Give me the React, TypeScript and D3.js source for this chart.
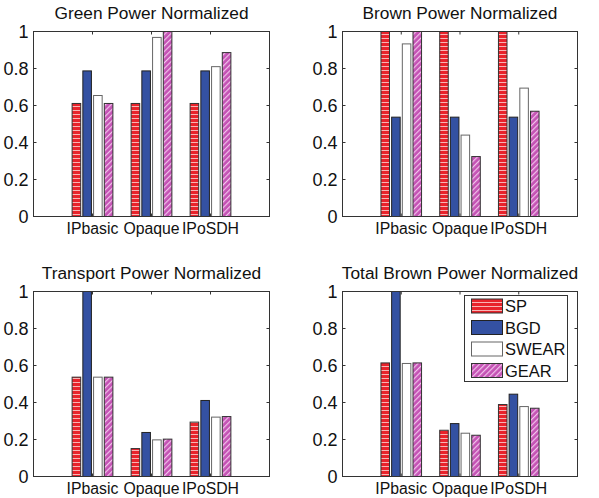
import React from "react";
import * as d3 from "d3";

const categories = ["IPbasic", "Opaque", "IPoSDH"];
const seriesNames = ["SP", "BGD", "SWEAR", "GEAR"];
const yTicks = [0, 0.2, 0.4, 0.6, 0.8, 1];
const yTickLabels = ["0", "0.2", "0.4", "0.6", "0.8", "1"];

// values per category: [SP, BGD, SWEAR, GEAR]
const greenPower = [
  [0.611, 0.787, 0.654, 0.611],
  [0.611, 0.787, 0.968, 1.0],
  [0.611, 0.787, 0.81, 0.886],
];
const brownPower = [
  [1.0, 0.537, 0.933, 1.0],
  [1.0, 0.537, 0.44, 0.324],
  [1.0, 0.537, 0.694, 0.569],
];
const transportPower = [
  [0.537, 1.0, 0.537, 0.537],
  [0.151, 0.238, 0.198, 0.202],
  [0.294, 0.411, 0.321, 0.324],
];
const totalBrownPower = [
  [0.614, 1.0, 0.611, 0.614],
  [0.25, 0.286, 0.234, 0.223],
  [0.389, 0.445, 0.378, 0.369],
];

const titles = [
  "Green Power Normalized",
  "Brown Power Normalized",
  "Transport Power Normalized",
  "Total Brown Power Normalized",
];

const FONT = "'Liberation Sans', Arial, sans-serif";
const fills = ["url(#redStripe)", "#3451a2", "#ffffff", "url(#pinkHatch)"];
const strokes = ["#333", "#222", "#666", "#333"];

type PanelProps = {
  x0: number;
  x1: number;
  y0: number;
  y1: number;
  title: string;
  data: number[][];
  legend?: boolean;
};

function Panel({ x0, x1, y0, y1, title, data, legend }: PanelProps) {
  const x = d3.scaleLinear().domain([0, 4]).range([x0, x1]);
  const y = d3.scaleLinear().domain([0, 1]).range([y1, y0]);
  const n = seriesNames.length;
  const groupWidth = Math.min(0.8, n / (n + 1.5));
  const pitch = groupWidth / n;
  const barW = pitch * 0.8;
  const tickLen = 3;
  return (
    <g>
      <text
        x={(x0 + x1) / 2}
        y={y0 - 12.5}
        textAnchor="middle"
        fontFamily={FONT}
        fontSize={17.3}
        fill="#111"
      >
        {title}
      </text>
      {data.map((vals, ci) =>
        vals.map((v, si) => {
          const cx = ci + 1 + (si - (n - 1) / 2) * pitch;
          const bx = x(cx - barW / 2);
          const bw = x(cx + barW / 2) - bx;
          return (
            <rect
              key={`${ci}-${si}`}
              x={bx}
              y={y(v)}
              width={bw}
              height={y(0) - y(v)}
              fill={fills[si]}
              stroke={strokes[si]}
              strokeWidth={1}
            />
          );
        })
      )}
      <rect
        x={x0}
        y={y0}
        width={x1 - x0}
        height={y1 - y0}
        fill="none"
        stroke="#333"
        strokeWidth={1}
      />
      {yTicks.map((t, i) => (
        <g key={`yt${i}`}>
          <line x1={x0} x2={x0 + tickLen} y1={y(t)} y2={y(t)} stroke="#333" />
          <line x1={x1} x2={x1 - tickLen} y1={y(t)} y2={y(t)} stroke="#333" />
          <text
            x={x0 - 5}
            y={y(t)}
            textAnchor="end"
            dominantBaseline="central"
            fontFamily={FONT}
            fontSize={18}
            fill="#111"
          >
            {yTickLabels[i]}
          </text>
        </g>
      ))}
      {categories.map((c, i) => (
        <g key={`xt${i}`}>
          <line x1={x(i + 1)} x2={x(i + 1)} y1={y0} y2={y0 + tickLen} stroke="#333" />
          <line x1={x(i + 1)} x2={x(i + 1)} y1={y1} y2={y1 - tickLen} stroke="#333" />
          <text
            x={x(i + 1)}
            y={y1 + 17}
            textAnchor="middle"
            fontFamily={FONT}
            fontSize={15.8}
            fill="#111"
          >
            {c}
          </text>
        </g>
      ))}
      {legend && (
        <g>
          <rect x={464.5} y={295.5} width={103} height={86} fill="#fff" stroke="#333" />
          {seriesNames.map((s, i) => {
            const cy = 306 + i * 21.5;
            return (
              <g key={s}>
                <rect
                  x={471.5}
                  y={cy - 7}
                  width={31}
                  height={14}
                  fill={fills[i]}
                  stroke={strokes[i]}
                />
                <text
                  x={505}
                  y={cy}
                  dominantBaseline="central"
                  fontFamily={FONT}
                  fontSize={16.5}
                  fill="#111"
                >
                  {s}
                </text>
              </g>
            );
          })}
        </g>
      )}
    </g>
  );
}

export default function App() {
  const L = [33.5, 269.5];
  const R = [342.5, 577.5];
  const T = [31.5, 216.5];
  const B = [291.5, 476.5];
  return (
    <svg
      width={599}
      height={498}
      style={{ position: "absolute", left: 0, top: 0, background: "#fff" }}
    >
      <defs>
        <pattern id="redStripe" patternUnits="userSpaceOnUse" width={8} height={4}>
          <rect width={8} height={4} fill="#e8232b" />
          <rect y={2} width={8} height={1} fill="#f8b4b4" />
        </pattern>
        <pattern
          id="pinkHatch"
          patternUnits="userSpaceOnUse"
          width={4}
          height={4}
          patternTransform="rotate(45)"
        >
          <rect width={4} height={4} fill="#c452b4" />
          <rect x={0} width={1.2} height={4} fill="#f2c4ec" />
        </pattern>
      </defs>
      <rect width={599} height={498} fill="#fff" />
      <Panel x0={L[0]} x1={L[1]} y0={T[0]} y1={T[1]} title={titles[0]} data={greenPower} />
      <Panel x0={R[0]} x1={R[1]} y0={T[0]} y1={T[1]} title={titles[1]} data={brownPower} />
      <Panel x0={L[0]} x1={L[1]} y0={B[0]} y1={B[1]} title={titles[2]} data={transportPower} />
      <Panel
        x0={R[0]}
        x1={R[1]}
        y0={B[0]}
        y1={B[1]}
        title={titles[3]}
        data={totalBrownPower}
        legend
      />
    </svg>
  );
}
